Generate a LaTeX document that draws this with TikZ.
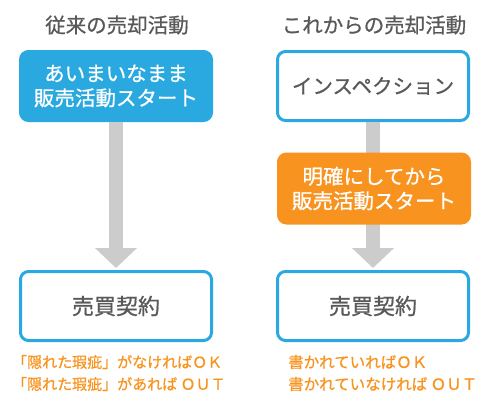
\documentclass[tikz,border=0pt]{standalone}
\usepackage{fontspec}
\setmainfont{Noto Sans CJK JP}[RawFeature={embolden=0.8}]
\usetikzlibrary{arrows.meta}
\definecolor{boxblue}{HTML}{29A9E0}
\definecolor{boxorange}{HTML}{F7931E}
\definecolor{txtgray}{HTML}{595959}
\definecolor{arrowgray}{HTML}{CCCCCC}

\begin{document}
\begin{tikzpicture}[x=1pt, y=-1pt,
  box/.style={shape=rectangle, rounded corners=8pt, line width=3pt, minimum width=191pt, minimum height=69pt, align=center, font=\fontsize{20.5}{24.5}\selectfont},
  bluebox/.style={box, draw=boxblue, fill=boxblue, text=white},
  orangebox/.style={box, draw=boxorange, fill=boxorange, text=white},
  whitebox/.style={box, draw=boxblue, fill=white, text=txtgray},
  title/.style={text=txtgray, font=\fontsize{20.5}{24}\selectfont},
  note/.style={anchor=west, inner sep=0pt, text=boxorange, font=\fontsize{15}{18}\selectfont},
  flow/.style={draw=arrowgray, line width=14pt, -{Triangle[width=41pt, length=20pt]}, shorten >=2pt}]
\useasboundingbox (0,0) rectangle (500,400);

\node [title] (T1) at (117,25) {従来の売却活動};
\node [title] (T2) at (374,25) {これからの売却活動};

\node [bluebox] (A1) at (116,86) {あいまいなまま\\販売活動スタート};
\node [whitebox, font=\fontsize{22}{26}\selectfont] (A2) at (116,306) {売買契約};
\node [whitebox] (B1) at (373,86) {インスペクション};
\node [whitebox, font=\fontsize{22}{26}\selectfont] (B3) at (373,306) {売買契約};

\draw [flow] (A1) -- (A2);
\draw [flow] (B1) -- (B3);

\node [orangebox] (B2) at (374,188.5) {明確にしてから\\販売活動スタート};

\node [note] (N1) at (12,362) {「隠れた瑕疵」がなければＯＫ};
\node [note] (N2) at (12,384) {「隠れた瑕疵」があれば ＯＵＴ};
\node [note, font=\fontsize{15.5}{18}\selectfont] (N3) at (288,362) {書かれていればＯＫ};
\node [note, font=\fontsize{15.5}{18}\selectfont] (N4) at (288,384) {書かれていなければ ＯＵＴ};
\end{tikzpicture}
\end{document}
